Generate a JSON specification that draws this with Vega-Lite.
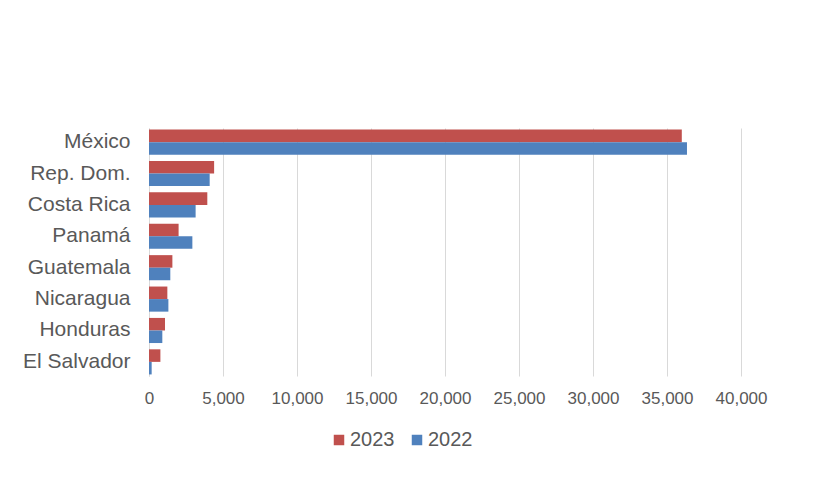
{
  "$schema": "https://vega.github.io/schema/vega-lite/v6.json",
  "width": 592,
  "height": 248,
  "autosize": "none",
  "padding": {"left": 149, "top": 128, "right": 98, "bottom": 118},
  "background": "white",
  "data": {
    "values": [
      {"country": "México", "year": "2023", "value": 36000},
      {"country": "México", "year": "2022", "value": 36350},
      {"country": "Rep. Dom.", "year": "2023", "value": 4400},
      {"country": "Rep. Dom.", "year": "2022", "value": 4100},
      {"country": "Costa Rica", "year": "2023", "value": 3940},
      {"country": "Costa Rica", "year": "2022", "value": 3150},
      {"country": "Panamá", "year": "2023", "value": 2000},
      {"country": "Panamá", "year": "2022", "value": 2930},
      {"country": "Guatemala", "year": "2023", "value": 1580},
      {"country": "Guatemala", "year": "2022", "value": 1440},
      {"country": "Nicaragua", "year": "2023", "value": 1240},
      {"country": "Nicaragua", "year": "2022", "value": 1310},
      {"country": "Honduras", "year": "2023", "value": 1080},
      {"country": "Honduras", "year": "2022", "value": 900},
      {"country": "El Salvador", "year": "2023", "value": 770},
      {"country": "El Salvador", "year": "2022", "value": 180}
    ]
  },
  "mark": {"type": "bar"},
  "encoding": {
    "y": {
      "field": "country",
      "type": "nominal",
      "sort": null,
      "scale": {"paddingInner": 0.2, "paddingOuter": 0.05},
      "axis": {
        "title": null,
        "ticks": false,
        "domain": true,
        "domainColor": "#d9d9d9",
        "labelFont": "Liberation Sans",
        "labelFontSize": 21,
        "labelColor": "#595959",
        "labelPadding": 19
      }
    },
    "yOffset": {"field": "year", "type": "nominal", "sort": ["2023", "2022"]},
    "x": {
      "field": "value",
      "type": "quantitative",
      "scale": {"domain": [0, 40000], "nice": false},
      "axis": {
        "title": null,
        "values": [0, 5000, 10000, 15000, 20000, 25000, 30000, 35000, 40000],
        "format": ",.0f",
        "domain": false,
        "ticks": false,
        "labelOverlap": false,
        "labelFlush": false,
        "labelBound": false,
        "gridColor": "#d9d9d9",
        "labelFont": "Liberation Sans",
        "labelFontSize": 17,
        "labelColor": "#595959",
        "labelPadding": 14
      }
    },
    "color": {
      "field": "year",
      "type": "nominal",
      "sort": ["2023", "2022"],
      "scale": {"domain": ["2023", "2022"], "range": ["#C0504D", "#4F81BD"]},
      "legend": {
        "title": null,
        "orient": "none",
        "direction": "horizontal",
        "legendX": 180,
        "legendY": 302,
        "symbolType": "square",
        "symbolSize": 110,
        "symbolStrokeWidth": 0,
        "labelFont": "Liberation Sans",
        "labelFontSize": 20,
        "labelColor": "#595959",
        "labelOffset": 1,
        "columnPadding": 12
      }
    }
  },
  "config": {"view": {"stroke": null}}
}
